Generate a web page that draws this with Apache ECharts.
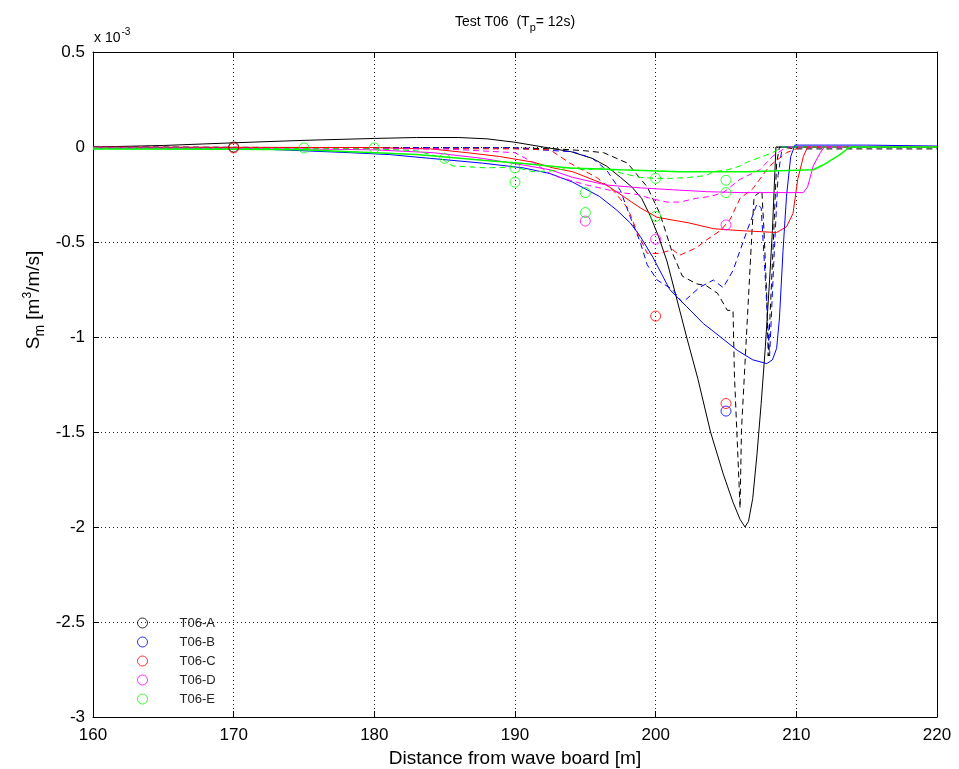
<!DOCTYPE html>
<html>
<head>
<meta charset="utf-8">
<script src="https://cdn.jsdelivr.net/npm/echarts@6/dist/echarts.min.js"></script>
<style>
html,body{margin:0;padding:0;background:#fff;}
#chart{width:959px;height:769px;}
</style>
</head>
<body>
<div id="chart"></div>
<script>
// x ticks and y ticks
const xTicks = [160, 170, 180, 190, 200, 210, 220];
const yTicks = [-3, -2.5, -2, -1.5, -1, -0.5, 0, 0.5];
const legendNames = ['T06-A', 'T06-B', 'T06-C', 'T06-D', 'T06-E'];

// model curves (values in 1e-3 m3/m/s)
const A_solid = [[160,0],[165,0.008],[170,0.022],[175,0.035],[180,0.045],[183,0.05],[186,0.05],[188,0.043],[190,0.025],[192,0.0],[194,-0.025],[195.5,-0.06],[196.5,-0.1],[197.5,-0.16],[198.3,-0.21],[199,-0.27],[199.6,-0.36],[200.2,-0.47],[200.8,-0.6],[201.5,-0.8],[202.2,-1.0],[203.0,-1.22],[203.9,-1.5],[204.8,-1.72],[205.5,-1.87],[206.0,-1.96],[206.35,-2.0],[206.6,-1.97],[206.9,-1.85],[207.2,-1.62],[207.5,-1.35],[207.8,-1.05],[208.1,-0.7],[208.3,-0.44],[208.55,0],[220,0]];
const A_dash = [[160,0],[175,-0.003],[190,-0.005],[193,-0.01],[195,-0.02],[196.3,-0.03],[198,-0.085],[199.4,-0.21],[200.3,-0.35],[201.2,-0.56],[201.9,-0.68],[202.9,-0.72],[203.6,-0.73],[204.4,-0.77],[205.1,-0.86],[205.5,-0.86],[205.6,-1.2],[206.0,-1.9],[206.1,-1.49],[206.35,-1.14],[206.6,-0.79],[206.85,-0.44],[207.0,-0.26],[207.55,-0.23],[207.7,-0.44],[207.9,-0.79],[208.0,-1.1],[208.3,-0.61],[208.6,-0.085],[208.8,0],[210,-0.01],[220,-0.01]];
const B_solid = [[160,-0.005],[170,-0.005],[175,-0.02],[178.3,-0.03],[181.1,-0.04],[184,-0.06],[187.7,-0.085],[190.6,-0.11],[192.5,-0.14],[194.1,-0.185],[196,-0.26],[197.2,-0.33],[198.2,-0.4],[198.9,-0.47],[199.8,-0.58],[201.0,-0.75],[202.2,-0.84],[203.4,-0.93],[204.1,-0.97],[205.8,-1.07],[206.9,-1.12],[207.9,-1.14],[208.3,-1.12],[208.6,-1.06],[208.8,-0.9],[209.05,-0.55],[209.3,-0.26],[209.6,-0.05],[209.9,0.01],[215,0.01],[220,0.005]];
const B_dash = [[160,0],[175,-0.003],[190,-0.005],[191.8,-0.015],[194.1,-0.025],[195.5,-0.06],[196.5,-0.12],[197.5,-0.23],[198.2,-0.37],[198.9,-0.5],[199.4,-0.62],[200.1,-0.7],[201.2,-0.75],[201.9,-0.82],[203.1,-0.74],[204.1,-0.7],[204.8,-0.74],[205.5,-0.65],[206.5,-0.44],[207.2,-0.3],[207.5,-0.32],[207.8,-0.7],[208.1,-1.1],[208.4,-0.6],[208.7,-0.15],[209.0,0],[220,0]];
const C_solid = [[160,0],[180,-0.003],[184,-0.01],[186.6,-0.03],[188.9,-0.05],[191.3,-0.08],[192.7,-0.11],[194.1,-0.13],[196.5,-0.2],[197.7,-0.26],[198.9,-0.32],[200.1,-0.37],[202.4,-0.40],[204.1,-0.43],[206,-0.44],[208.6,-0.45],[209.3,-0.42],[209.76,-0.35],[210.1,-0.17],[210.5,-0.05],[210.8,0],[220,0]];
const C_dash = [[160,-0.005],[190,-0.01],[192.5,-0.015],[193.9,-0.085],[195.8,-0.16],[197,-0.23],[198,-0.32],[198.7,-0.45],[199.4,-0.56],[200.3,-0.56],[201.2,-0.54],[201.7,-0.57],[202.9,-0.53],[203.6,-0.49],[204.6,-0.44],[205.3,-0.38],[206,-0.27],[206.9,-0.22],[208.1,-0.1],[209.3,-0.03],[210.3,0],[220,0]];
const D_solid = [[160,-0.005],[175,-0.01],[180,-0.015],[184.2,-0.03],[187.7,-0.06],[190.6,-0.095],[192.5,-0.12],[194.1,-0.16],[196.5,-0.2],[198.9,-0.215],[201.2,-0.225],[203.6,-0.235],[206,-0.24],[210.5,-0.24],[210.8,-0.21],[211.2,-0.1],[211.7,-0.03],[212,0],[220,0]];
const D_dash = [[160,-0.005],[185,-0.01],[190,-0.03],[191.5,-0.09],[192.7,-0.15],[195.1,-0.2],[197.5,-0.24],[198.7,-0.25],[199.6,-0.27],[200.8,-0.29],[201.7,-0.29],[202.9,-0.27],[203.9,-0.26],[204.8,-0.24],[206,-0.17],[207.4,-0.12],[208.3,-0.05],[209.3,0],[220,0]];
const E_solid = [[160,-0.01],[170,-0.012],[175,-0.015],[178.3,-0.025],[183,-0.04],[187.7,-0.07],[190.4,-0.085],[193.9,-0.11],[197.5,-0.12],[201.7,-0.13],[206.5,-0.13],[211.2,-0.12],[211.9,-0.095],[213.1,-0.04],[213.8,0],[220,0]];
const E_dash = [[160,-0.005],[180,-0.01],[183,-0.02],[184.5,-0.05],[185.6,-0.1],[188,-0.11],[189.9,-0.105],[191.3,-0.13],[192.7,-0.125],[193.9,-0.11],[195.1,-0.12],[196.3,-0.11],[197.7,-0.14],[198.9,-0.16],[200.1,-0.165],[201.2,-0.165],[202.4,-0.16],[203.6,-0.15],[204.1,-0.13],[205.1,-0.12],[206,-0.1],[206.5,-0.08],[208.3,-0.03],[209,0],[220,0]];

// measured points
const A_meas = [[170,0]];
const B_meas = [[205,-1.39]];
const C_meas = [[170,-0.005],[200,-0.89],[205,-1.35]];
const D_meas = [[195,-0.39],[200,-0.485],[205,-0.41]];
const E_meas = [[175,-0.005],[180,-0.005],[185,-0.06],[190,-0.11],[190,-0.185],[195,-0.24],[195,-0.345],[200,-0.165],[200,-0.365],[205,-0.175],[205,-0.24]];

const colors = ['#000000', '#0000ff', '#ff0000', '#ff00ff', '#00ff00'];
const FONT = 'Liberation Sans, Arial, sans-serif';

function lineSeries(data, color, dashed, width) {
  return {
    type: 'line', data: data, showSymbol: false, symbol: 'none',
    lineStyle: { color: color, width: width || 1, type: dashed ? [6, 4] : 'solid' },
    itemStyle: { color: color }, animation: false, silent: true, z: 2
  };
}
function measSeries(name, data, color) {
  return {
    type: 'scatter', name: name, data: data, symbol: 'circle', symbolSize: 10,
    itemStyle: { color: 'rgba(0,0,0,0)', borderColor: color, borderWidth: 1 },
    animation: false, z: 3
  };
}

const chart = echarts.init(document.getElementById('chart'), null, { renderer: 'canvas' });
const gridLine = { show: true, lineStyle: { color: '#222', type: [1, 3], width: 1 } };
const option = {
  backgroundColor: '#ffffff',
  animation: false,
  grid: { left: 93, right: 22, top: 52, bottom: 52 },
  xAxis: [{
    type: 'value', min: xTicks[0], max: xTicks[xTicks.length - 1], interval: 10,
    axisLine: { show: true, onZero: false, lineStyle: { color: '#000', width: 1 } },
    axisTick: { show: true, inside: true, length: 6, lineStyle: { color: '#000' } },
    axisLabel: { fontSize: 17, color: '#000', fontFamily: FONT, margin: 10 },
    splitLine: gridLine
  }, {
    type: 'value', position: 'top', min: xTicks[0], max: xTicks[xTicks.length - 1], interval: 10,
    axisLine: { show: true, onZero: false, lineStyle: { color: '#000', width: 1 } },
    axisTick: { show: true, inside: true, length: 6, lineStyle: { color: '#000' } },
    axisLabel: { show: false }, splitLine: { show: false }
  }],
  yAxis: [{
    type: 'value', min: yTicks[0], max: yTicks[yTicks.length - 1], interval: 0.5,
    axisLine: { show: true, onZero: false, lineStyle: { color: '#000', width: 1 } },
    axisTick: { show: true, inside: true, length: 6, lineStyle: { color: '#000' } },
    axisLabel: { fontSize: 17, color: '#000', fontFamily: FONT, margin: 8 },
    splitLine: gridLine
  }, {
    type: 'value', position: 'right', min: yTicks[0], max: yTicks[yTicks.length - 1], interval: 0.5,
    axisLine: { show: true, onZero: false, lineStyle: { color: '#000', width: 1 } },
    axisTick: { show: true, inside: true, length: 6, lineStyle: { color: '#000' } },
    axisLabel: { show: false }, splitLine: { show: false }
  }],
  legend: {
    data: legendNames, orient: 'vertical', left: 132, top: 611,
    itemWidth: 10, itemHeight: 10, itemGap: 5,
    itemStyle: { borderWidth: 1 },
    textStyle: { fontSize: 13, lineHeight: 14, color: '#222', fontFamily: FONT, padding: [0, 0, 0, 27] },
    icon: 'circle', selectedMode: false
  },
  graphic: [
    { type: 'text', x: 515, y: 22, style: {
        text: '{a|Test T06  (T}{b|p}{a|= 12s)}', align: 'center', verticalAlign: 'middle',
        rich: { a: { fontSize: 14, fontFamily: FONT, fill: '#000' }, b: { fontSize: 11, fontFamily: FONT, fill: '#000', padding: [12, 0, 0, 0] } } } },
    { type: 'text', x: 94, y: 38, style: {
        text: '{a|x 10}{b|-3}', align: 'left', verticalAlign: 'middle',
        rich: { a: { fontSize: 14, fontFamily: FONT, fill: '#000' }, b: { fontSize: 10, fontFamily: FONT, fill: '#000', padding: [0, 0, 12, 1] } } } },
    { type: 'text', x: 515, y: 759, style: {
        text: 'Distance from wave board [m]', align: 'center', verticalAlign: 'middle',
        fontSize: 19, fontFamily: FONT, fill: '#000' } },
    { type: 'text', x: 34, y: 300, rotation: Math.PI / 2, style: {
        text: '{a|S}{b|m}{a| [m}{c|3}{a|/m/s]}', align: 'center', verticalAlign: 'middle',
        rich: { a: { fontSize: 19, fontFamily: FONT, fill: '#000' },
                b: { fontSize: 14, fontFamily: FONT, fill: '#000', padding: [13, 0, 0, 0] },
                c: { fontSize: 12, fontFamily: FONT, fill: '#000', padding: [0, 0, 13, 0] } } } }
  ],
  series: [
    lineSeries(A_solid, colors[0], false), lineSeries(A_dash, colors[0], true),
    lineSeries(B_solid, colors[1], false), lineSeries(B_dash, colors[1], true),
    lineSeries(C_solid, colors[2], false), lineSeries(C_dash, colors[2], true),
    lineSeries(D_solid, colors[3], false), lineSeries(D_dash, colors[3], true),
    lineSeries(E_solid, colors[4], false, 1.5), lineSeries(E_dash, colors[4], true),
    measSeries(legendNames[0], A_meas, colors[0]),
    measSeries(legendNames[1], B_meas, colors[1]),
    measSeries(legendNames[2], C_meas, colors[2]),
    measSeries(legendNames[3], D_meas, colors[3]),
    measSeries(legendNames[4], E_meas, colors[4])
  ]
};
chart.setOption(option);
</script>
</body>
</html>
